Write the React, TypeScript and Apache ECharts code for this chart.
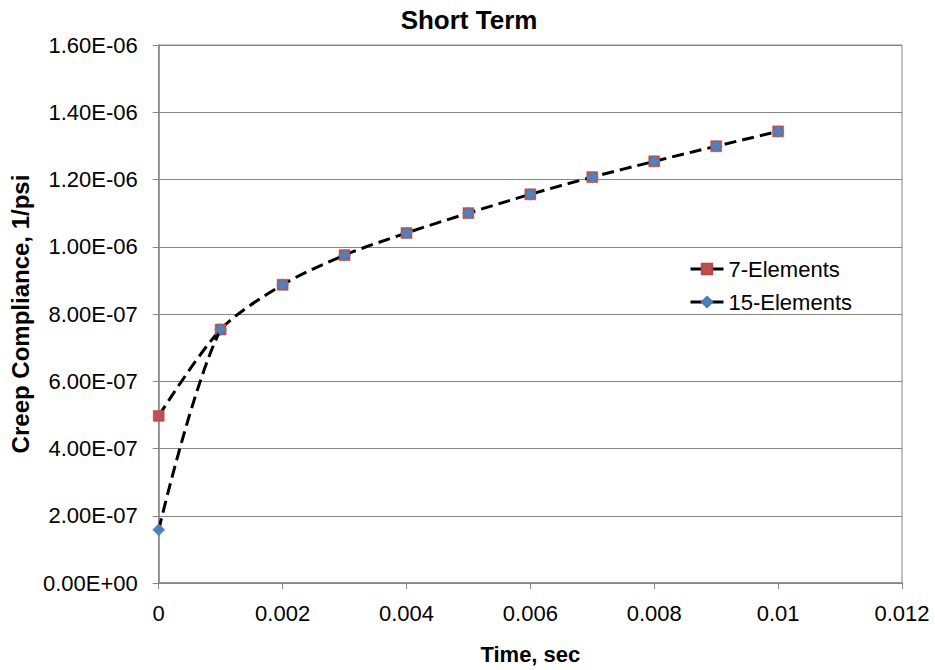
import React, { useEffect, useRef } from "react";
import * as echarts from "echarts";

const times = [0, 0.001, 0.002, 0.003, 0.004, 0.005, 0.006, 0.007, 0.008, 0.009, 0.01];
const sevenElements = [4.97e-7, 7.54e-7, 8.87e-7, 9.75e-7, 1.041e-6, 1.1e-6, 1.156e-6, 1.207e-6, 1.254e-6, 1.299e-6, 1.343e-6];
const fifteenElements = [1.58e-7, 7.54e-7, 8.87e-7, 9.75e-7, 1.041e-6, 1.1e-6, 1.156e-6, 1.207e-6, 1.254e-6, 1.299e-6, 1.343e-6];
const seriesNames = ["7-Elements", "15-Elements"];

const FONT = "'Liberation Sans', Arial, sans-serif";
const DASH = 12;
const GAP = 6;

function fmtY(v: number): string {
  if (v === 0) return "0.00E+00";
  const s = v.toExponential(2);
  const [m, e] = s.split("e");
  const n = parseInt(e, 10);
  const sign = n < 0 ? "-" : "+";
  const a = Math.abs(n);
  return `${m}E${sign}${a < 10 ? "0" + a : a}`;
}

export default function App() {
  const ref = useRef<HTMLDivElement>(null);
  useEffect(() => {
    if (!ref.current) return;
    const chart = echarts.init(ref.current, undefined, { renderer: "svg" });
    const mk = (vals: number[]) => times.map((t, i) => [t, vals[i]]);
    const lineBase = { color: "#000", width: 3, type: [DASH, GAP], cap: "butt" };
    chart.setOption({
      animation: false,
      backgroundColor: "#ffffff",
      title: {
        text: "Short Term",
        left: 464,
        top: 2,
        textAlign: "center",
        textStyle: { fontFamily: FONT, fontSize: 26, fontWeight: "bold", color: "#000" },
      },
      legend: {
        orient: "vertical",
        left: 684,
        top: 253,
        itemWidth: 33,
        itemHeight: 13,
        itemGap: 11,
        lineStyle: { type: "solid", width: 3, color: "#000" },
        textStyle: { fontFamily: FONT, fontSize: 22, color: "#000" },
        data: seriesNames,
      },
      grid: {
        left: 158,
        right: 33,
        top: 45,
        bottom: 84,
        show: true,
        borderColor: "#868686",
        borderWidth: 1,
        backgroundColor: "transparent",
      },
      xAxis: {
        type: "value",
        min: 0,
        max: 0.012,
        interval: 0.002,
        name: "Time, sec",
        nameLocation: "middle",
        nameGap: 60,
        nameTextStyle: { fontFamily: FONT, fontSize: 22, fontWeight: "bold", color: "#000" },
        axisLine: { show: true, lineStyle: { color: "#868686", width: 1.5 } },
        axisTick: { show: true, length: 6, lineStyle: { color: "#868686" } },
        splitLine: { show: false },
        axisLabel: {
          fontFamily: FONT,
          fontSize: 22,
          color: "#000",
          margin: 19,
          formatter: (v: number) => String(parseFloat(v.toFixed(4))),
        },
      },
      yAxis: {
        type: "value",
        min: 0,
        max: 1.6e-6,
        interval: 2e-7,
        name: "Creep Compliance, 1/psi",
        nameLocation: "middle",
        nameGap: 124,
        nameTextStyle: { fontFamily: FONT, fontSize: 24, fontWeight: "bold", color: "#000" },
        axisLine: { show: true, lineStyle: { color: "#868686", width: 1.5 } },
        axisTick: { show: true, length: 6, lineStyle: { color: "#868686" } },
        splitLine: { show: true, lineStyle: { color: "#868686", width: 1 } },
        axisLabel: {
          fontFamily: FONT,
          fontSize: 22,
          color: "#000",
          margin: 21,
          formatter: fmtY,
        },
      },
      series: [
        {
          name: seriesNames[0],
          type: "line",
          data: mk(sevenElements),
          smooth: 0.3,
          symbol: "rect",
          symbolSize: 11,
          itemStyle: { color: "#C0504D", borderColor: "#B54845", borderWidth: 0.5 },
          lineStyle: lineBase,
          z: 2,
        },
        {
          name: seriesNames[1],
          type: "line",
          data: mk(fifteenElements),
          smooth: 0.3,
          symbol: "diamond",
          symbolSize: 12,
          itemStyle: { color: "#4F81BD", borderColor: "#4A7AB5", borderWidth: 0.5 },
          lineStyle: lineBase,
          z: 3,
        },
      ],
    });

    // The 15-Elements curve coincides with the 7-Elements curve after the
    // second point; draw its dashes only over the first segment so that the
    // shared part stays a single dashed line, as in the reference.
    const p0 = chart.convertToPixel({ gridIndex: 0 }, [times[0], fifteenElements[0]]) as number[];
    const p1 = chart.convertToPixel({ gridIndex: 0 }, [times[1], fifteenElements[1]]) as number[];
    const len = Math.hypot(p1[0] - p0[0], p1[1] - p0[1]) * 1.02;
    const pattern: number[] = [];
    let acc = 0;
    while (acc + DASH + GAP < len) {
      pattern.push(DASH, GAP);
      acc += DASH + GAP;
    }
    pattern.push(Math.max(0.1, Math.min(DASH, len - acc)), 100000);
    chart.setOption({
      series: [{}, { name: seriesNames[1], lineStyle: { ...lineBase, type: pattern } }],
    });
    return () => chart.dispose();
  }, []);
  return <div ref={ref} style={{ width: 935, height: 670, position: "absolute", left: 0, top: 0 }} />;
}
